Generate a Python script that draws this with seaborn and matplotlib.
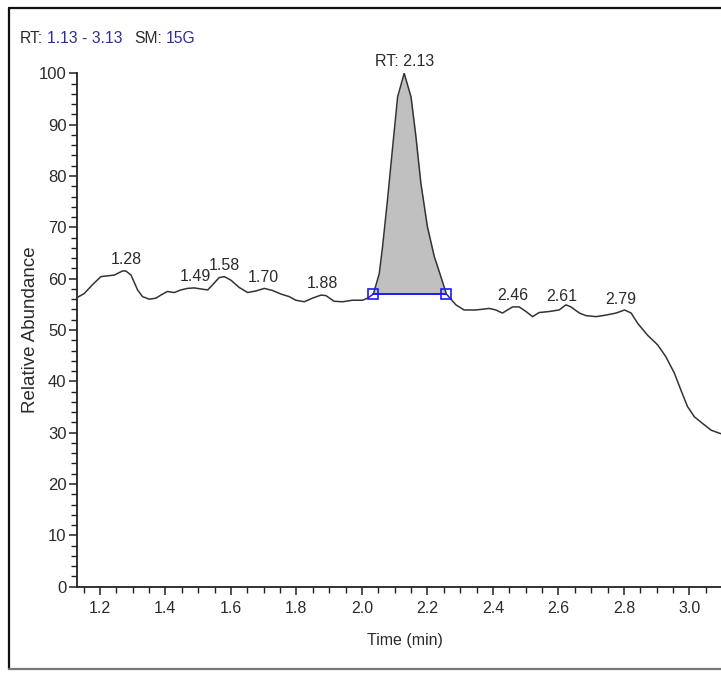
import numpy as np
import pandas as pd
import matplotlib
matplotlib.use("Agg")
import matplotlib.pyplot as plt
from matplotlib.ticker import MultipleLocator, FormatStrFormatter
from matplotlib.lines import Line2D
import seaborn as sns

# ---------------- data ----------------
time_min = [1.127, 1.152, 1.177, 1.203, 1.244, 1.269, 1.279, 1.295, 1.315, 1.330,
            1.351, 1.371, 1.386, 1.406, 1.427, 1.447, 1.467, 1.488, 1.508, 1.529,
            1.544, 1.564, 1.580, 1.600, 1.625, 1.651, 1.676, 1.702, 1.727, 1.753,
            1.778, 1.798, 1.824, 1.849, 1.875, 1.890, 1.915, 1.941, 1.971, 2.002,
            2.017, 2.035, 2.053, 2.063, 2.078, 2.093, 2.109, 2.129, 2.150, 2.165,
            2.180, 2.200, 2.221, 2.241, 2.258, 2.287, 2.312, 2.348, 2.389, 2.409,
            2.429, 2.460, 2.480, 2.501, 2.521, 2.541, 2.572, 2.602, 2.623, 2.638,
            2.664, 2.684, 2.715, 2.745, 2.776, 2.802, 2.822, 2.842, 2.872, 2.903,
            2.928, 2.954, 2.974, 2.994, 3.015, 3.040, 3.066, 3.091, 3.130]
rel_abundance = [56.2, 57.1, 58.8, 60.4, 60.7, 61.5, 61.5, 60.7, 57.8, 56.5,
                 56.0, 56.2, 56.8, 57.5, 57.3, 57.8, 58.1, 58.2, 58.0, 57.8,
                 58.8, 60.2, 60.4, 59.7, 58.3, 57.3, 57.6, 58.1, 57.7, 57.0,
                 56.5, 55.8, 55.5, 56.2, 56.8, 56.7, 55.6, 55.5, 55.8, 55.8,
                 56.2, 57.0, 61.0, 66.2, 75.3, 85.1, 95.4, 100.0, 95.4, 87.6,
                 78.6, 70.1, 64.3, 60.4, 57.0, 54.9, 53.9, 53.9, 54.2, 53.9,
                 53.3, 54.5, 54.5, 53.6, 52.6, 53.4, 53.6, 53.9, 54.9, 54.5,
                 53.3, 52.8, 52.6, 52.9, 53.3, 53.9, 53.3, 51.3, 49.0, 47.1,
                 44.8, 41.6, 38.3, 35.1, 33.1, 31.8, 30.5, 29.9, 29.2]

peak_labels = [1.28, 1.49, 1.58, 1.70, 1.88, 2.46, 2.61, 2.79]
main_peak_rt = 2.13
integration_start = 2.035
integration_end = 2.258
rt_range = (1.13, 3.13)
smoothing = "15G"
y_range = (0, 100)

x_ticks_major = 0.2
x_ticks_minor = 0.05
y_ticks_major = 10
y_ticks_minor = 2

# ---------------- style ----------------
sns.set_theme(style="ticks")
FONT = ["Liberation Sans", "DejaVu Sans"]
plt.rcParams["font.family"] = FONT
TXT = "#2b2b2b"
BLUE = "#2e2e9a"

df = pd.DataFrame({"Time (min)": time_min, "Relative Abundance": rel_abundance})

fig = plt.figure(figsize=(7.21, 6.77), dpi=100)
fig.patch.set_facecolor("white")
W, H = 721, 677
ax = fig.add_axes([77 / W, 90.3 / H, 655 / W, 513.4 / H])
ax.set_facecolor("white")

# integrated peak fill
t = np.array(time_min)
v = np.array(rel_abundance)
base = np.interp(integration_start, t, v)
mask = (t >= integration_start) & (t <= integration_end)
ax.fill_between(t[mask], v[mask], base, color="#c0c0c0", zorder=1, linewidth=0)

sns.lineplot(data=df, x="Time (min)", y="Relative Abundance", ax=ax,
             color="#333333", linewidth=1.1, zorder=3, estimator=None, sort=False)

# baseline with markers
ax.plot([integration_start, integration_end], [base, base], color="#1a1aff",
        linewidth=1.4, zorder=4)
ax.plot([integration_start, integration_end], [base, base], linestyle="none",
        marker="s", markersize=6.5, markerfacecolor="none",
        markeredgecolor="#1a1aff", markeredgewidth=1.2, zorder=5)

# peak labels
LS = 11.5
for rt in peak_labels:
    ax.annotate(f"{rt:.2f}", xy=(rt, np.interp(rt, t, v)), xytext=(0, 5),
                textcoords="offset points", ha="center", va="baseline",
                fontsize=LS, color=TXT, zorder=6)
ax.annotate(f"RT: {main_peak_rt:.2f}", xy=(main_peak_rt, np.interp(main_peak_rt, t, v)),
            xytext=(0, 6), textcoords="offset points", ha="center", va="baseline",
            fontsize=LS, color=TXT, annotation_clip=False, zorder=6)

# axes
ax.set_xlim(*rt_range)
ax.set_ylim(*y_range)
ax.xaxis.set_major_locator(MultipleLocator(x_ticks_major))
ax.xaxis.set_minor_locator(MultipleLocator(x_ticks_minor))
ax.yaxis.set_major_locator(MultipleLocator(y_ticks_major))
ax.yaxis.set_minor_locator(MultipleLocator(y_ticks_minor))
ax.xaxis.set_major_formatter(FormatStrFormatter("%.1f"))
ax.yaxis.set_major_formatter(FormatStrFormatter("%d"))
ax.tick_params(axis="both", which="major", length=5.5, width=1.1, color="#222222",
               labelcolor=TXT, pad=2)
ax.tick_params(axis="both", which="minor", length=4, width=1.0, color="#222222")
ax.tick_params(axis="x", which="major", labelsize=11.5, pad=5)
ax.tick_params(axis="y", which="major", labelsize=12)
for s in ["top", "right"]:
    ax.spines[s].set_visible(False)
for s in ["left", "bottom"]:
    ax.spines[s].set_color("#222222")
    ax.spines[s].set_linewidth(1.3)
ax.set_xlabel("Time (min)", fontsize=11.5, color=TXT, labelpad=12)
ax.set_ylabel("Relative Abundance", fontsize=13.5, color=TXT, labelpad=0)

# header text
HS = 11.3
t1 = fig.text(20 / W, 1 - 43 / H, "RT:", fontsize=HS, color=TXT, ha="left", va="baseline")
t2 = ax.annotate(f"{rt_range[0]:.2f} - {rt_range[1]:.2f}", xy=(1, 0), xycoords=t1,
                 xytext=(3, 0), textcoords="offset points", fontsize=HS, color=BLUE,
                 ha="left", va="bottom", annotation_clip=False)
t3 = ax.annotate("SM:", xy=(1, 0), xycoords=t2, xytext=(8, 0), textcoords="offset points",
                 fontsize=HS, color=TXT, ha="left", va="bottom", annotation_clip=False)
ax.annotate(smoothing, xy=(1, 0), xycoords=t3, xytext=(3, 0), textcoords="offset points",
            fontsize=HS, color=BLUE, ha="left", va="bottom", annotation_clip=False)

# outer frame of the figure panel
fig.add_artist(Line2D([8.5 / W, 8.5 / W], [1 - 7.5 / H, 1 - 669 / H], color="#111111", lw=1.6))
fig.add_artist(Line2D([8.5 / W, 1.0], [1 - 7.5 / H, 1 - 7.5 / H], color="#111111", lw=1.6))
fig.add_artist(Line2D([8.5 / W, 1.0], [1 - 669 / H, 1 - 669 / H], color="#777777", lw=1.6))

fig.savefig("out.png", dpi=100, facecolor="white")
